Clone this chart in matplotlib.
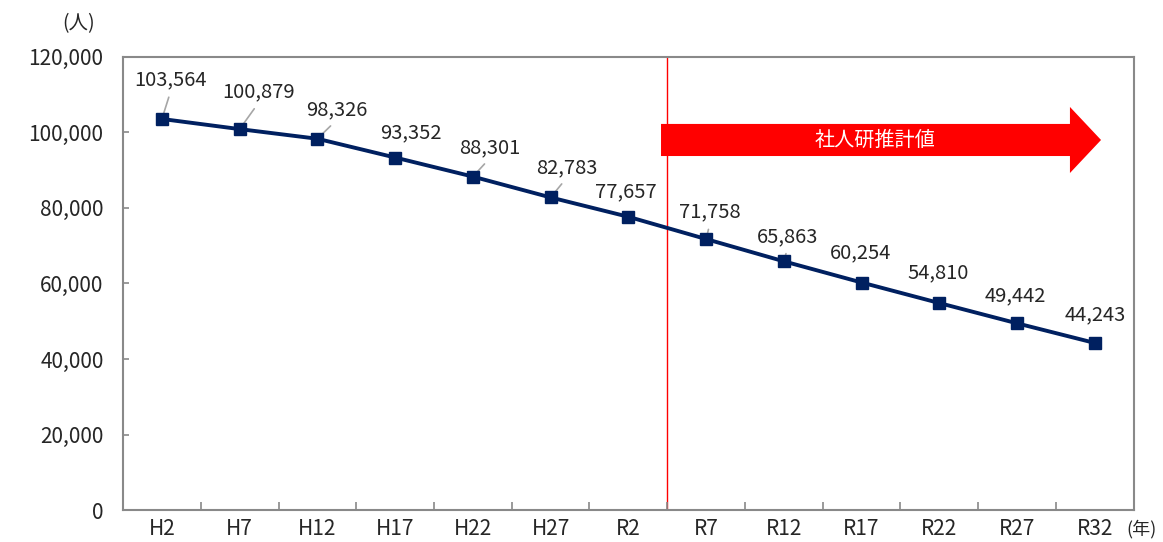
import numpy as np
import matplotlib
matplotlib.use('Agg')
import matplotlib.pyplot as plt
import matplotlib.patches as mpatches
from matplotlib.ticker import FuncFormatter, FixedLocator

plt.rcParams['font.family'] = ['Noto Sans CJK JP', 'DejaVu Sans']

# データ
years = ['H2', 'H7', 'H12', 'H17', 'H22', 'H27', 'R2',
         'R7', 'R12', 'R17', 'R22', 'R27', 'R32']
population = [103564, 100879, 98326, 93352, 88301, 82783, 77657,
              71758, 65863, 60254, 54810, 49442, 44243]
estimate_label = '社人研推計値'

# ラベル位置(ピクセル)と引出線の有無
label_offsets = [(9, 39), (19, 37), (19, 29), (16, 25), (17, 29), (16, 30), (-2, 25),
                 (4, 27), (4, 25), (-1, 30), (-1, 30), (-2, 28), (0, 28)]
leader = [1, 1, 1, 0, 1, 1, 0, 1, 1, 0, 0, 0, 0]

fig = plt.figure(figsize=(11.63, 5.42), dpi=100)
ax = fig.add_axes([0.1058, 0.059, 0.869, 0.836])

x = np.arange(len(years))
ax.plot(x, population, color='#002060', lw=2.8, marker='s', ms=9, zorder=3)

for i, v in enumerate(population):
    dx, dy = label_offsets[i]
    kw = {}
    if leader[i]:
        kw['arrowprops'] = dict(arrowstyle='-', color='#a6a6a6', lw=1.2,
                                relpos=(0.5, 0.0), shrinkA=3, shrinkB=0)
    ax.annotate(f'{v:,}', xy=(i, v), xytext=(dx, dy), textcoords='offset pixels',
                ha='center', va='center', fontsize=14.5, color='#262626',
                zorder=2.5, **kw)

# 推計値の境界線と矢印
ax.axvline(6.5, color='#ff0000', lw=1.0, zorder=1)
arrow = mpatches.FancyArrow(6.42, 98000, 12.08 - 6.42, 0, width=8500,
                            head_width=17500, head_length=0.4,
                            length_includes_head=True, color='#ff0000', lw=0, zorder=2)
ax.add_patch(arrow)
ax.text(9.17, 98000, estimate_label, color='white', fontsize=14.5,
        ha='center', va='center', zorder=4)

ax.set_xlim(-0.5, len(years) - 0.5)
ax.set_ylim(0, 120000)
ax.set_yticks(np.arange(0, 120001, 20000))
ax.yaxis.set_major_formatter(FuncFormatter(lambda v, p: f'{int(v):,}'))

ax.xaxis.set_major_locator(FixedLocator(np.arange(-0.5, len(years), 1.0)))
ax.xaxis.set_major_formatter(FuncFormatter(lambda v, p: ''))
ax.set_xticks(x, minor=True)
ax.set_xticklabels(years, minor=True)
ax.tick_params(axis='x', which='major', direction='in', length=6, color='#898989', width=1.2)
ax.tick_params(axis='x', which='minor', length=0, pad=6, labelsize=15, labelcolor='#262626')
ax.tick_params(axis='y', direction='in', length=4, color='#898989', width=1.2,
               labelsize=15, labelcolor='#262626', pad=14)

for s in ax.spines.values():
    s.set_color('#898989')
    s.set_linewidth(1.5)

fig.text(79 / 1163, 1 - 24 / 542, '(人)', fontsize=14, ha='center', va='center', color='#262626')
fig.text(1141 / 1163, 1 - 529 / 542, '(年)', fontsize=13, ha='center', va='center', color='#262626')

fig.savefig('out.png', dpi=100)
